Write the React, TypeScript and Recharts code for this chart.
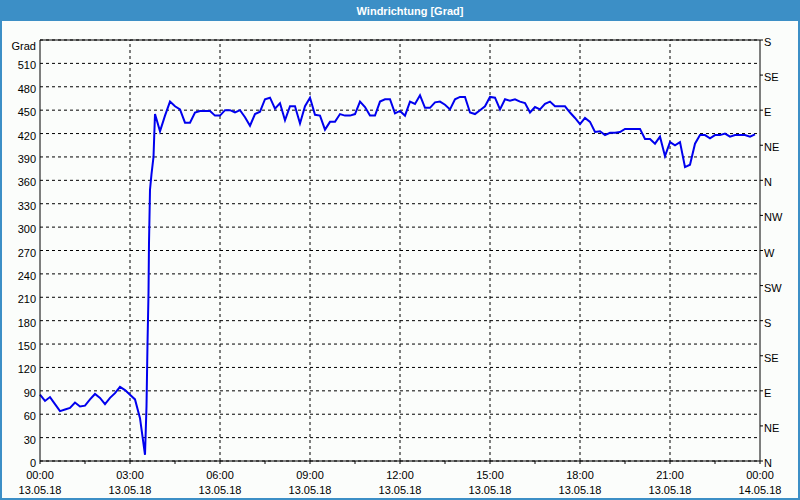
import React from 'react';
import { LineChart, Line, XAxis, YAxis, CartesianGrid, ReferenceLine } from 'recharts';

// time of each reading, minutes after 13.05.18 00:00
const minutes = [
  0, 10, 20, 30, 40, 50, 60, 70, 80, 90, 100, 110, 120, 130, 140, 150, 160, 170, 180, 190,
  200, 210, 213, 215, 217, 218, 220, 223, 227, 230, 240, 250, 260, 270, 280, 290, 300, 310, 320, 330,
  340, 350, 360, 370, 380, 390, 400, 410, 420, 430, 440, 450, 460, 470, 480, 490, 500, 510, 520, 530,
  540, 550, 560, 570, 580, 590, 600, 610, 620, 630, 640, 650, 660, 670, 680, 690, 700, 710, 720, 730,
  740, 750, 760, 770, 780, 790, 800, 810, 820, 830, 840, 850, 860, 870, 880, 890, 900, 910, 920, 930,
  940, 950, 960, 970, 980, 990, 1000, 1010, 1020, 1030, 1040, 1050, 1060, 1070, 1080, 1090, 1100, 1110, 1120, 1130,
  1140, 1150, 1160, 1170, 1180, 1190, 1200, 1210, 1220, 1230, 1240, 1250, 1260, 1270, 1280, 1290, 1300, 1310, 1320, 1330,
  1340, 1350, 1360, 1370, 1380, 1390, 1400, 1410, 1420, 1430,
];

// wind direction in degrees
const grad = [
  85, 77, 82, 73, 64, 66, 68, 75, 70, 71, 79, 86, 81, 73, 81, 87, 95, 91, 85, 79,
  55, 8, 70, 150, 215, 280, 348, 368, 390, 445, 423, 443, 461, 455, 451, 434, 434, 447, 449, 449,
  449, 443, 443, 450, 450, 447, 450, 441, 430, 445, 448, 464, 466, 452, 459, 437, 455, 455, 433, 455,
  466, 444, 443, 425, 435, 435, 445, 443, 443, 445, 461, 454, 443, 443, 461, 464, 464, 446, 449, 443,
  461, 458, 469, 453, 453, 460, 461, 457, 451, 464, 467, 467, 447, 445, 450, 455, 467, 466, 451, 464,
  462, 464, 461, 459, 447, 454, 451, 458, 461, 455, 455, 455, 447, 440, 432, 440, 435, 422, 423, 418,
  421, 421, 422, 426, 426, 426, 426, 413, 413, 407, 416, 391, 409, 405, 409, 377, 380, 407, 418, 418,
  414, 418, 418, 420, 416, 418, 418, 418, 416, 419,
];

const xTicks = [0, 90, 180, 270, 360, 450, 540, 630, 720, 810, 900, 990, 1080, 1170, 1260, 1350, 1440];
const majorTicks = [0, 180, 360, 540, 720, 900, 1080, 1260, 1440];
const timeLabels = ['00:00', '03:00', '06:00', '09:00', '12:00', '15:00', '18:00', '21:00', '00:00'];
const dateLabels = ['13.05.18', '13.05.18', '13.05.18', '13.05.18', '13.05.18', '13.05.18', '13.05.18', '13.05.18', '14.05.18'];

const gradTicks = [0, 30, 60, 90, 120, 150, 180, 210, 240, 270, 300, 330, 360, 390, 420, 450, 480, 510, 540];
const compassTicks = [0, 45, 90, 135, 180, 225, 270, 315, 360, 405, 450, 495, 540];
const compassLabels = ['N', 'NE', 'E', 'SE', 'S', 'SW', 'W', 'NW', 'N', 'NE', 'E', 'SE', 'S'];

const data = minutes.map((t, i) => ({ t, grad: grad[i] }));

const FONT = '"Liberation Sans", Arial, sans-serif';
const BLUE = '#3c8fc6';

const XTick = (props: any) => {
  const { x, y, payload } = props;
  const idx = majorTicks.indexOf(payload.value);
  if (idx < 0) return <g />;
  return (
    <g>
      <text x={x} y={y + 15} textAnchor="middle" fontFamily={FONT} fontSize={11} fill="#000">
        {timeLabels[idx]}
      </text>
      <text x={x} y={y + 30} textAnchor="middle" fontFamily={FONT} fontSize={11} fill="#000">
        {dateLabels[idx]}
      </text>
    </g>
  );
};

const LeftTick = (props: any) => {
  const { x, y, payload } = props;
  const isTop = payload.value === 540;
  return (
    <text x={x} y={y + (isTop ? 10 : 6)} textAnchor="end" fontFamily={FONT} fontSize={11} fill="#000">
      {isTop ? 'Grad' : String(payload.value)}
    </text>
  );
};

const RightTick = (props: any) => {
  const { x, y, payload } = props;
  const idx = compassTicks.indexOf(payload.value);
  return (
    <text x={x} y={y + 6} textAnchor="start" fontFamily={FONT} fontSize={11} fill="#000">
      {compassLabels[idx]}
    </text>
  );
};

export default function App() {
  return (
    <div style={{ position: 'absolute', left: 0, top: 0, width: 800, height: 500, background: BLUE }}>
      <div
        style={{
          position: 'absolute',
          left: 2,
          top: 21,
          width: 796,
          height: 477,
          background: '#fbfdfb',
        }}
      />
      <div
        style={{
          position: 'absolute',
          left: 0,
          top: 3,
          width: 820,
          textAlign: 'center',
          color: '#ffffff',
          fontFamily: FONT,
          fontWeight: 'bold',
          fontSize: 11,
          lineHeight: '16px',
        }}
      >
        Windrichtung [Grad]
      </div>
      <div style={{ position: 'absolute', left: 0, top: 0 }}>
        <LineChart width={800} height={500} data={data} margin={{ top: 40, right: 2, bottom: 3, left: 2 }}>
          <CartesianGrid yAxisId="left" vertical={false} stroke="#000" strokeDasharray="3 3" />
          <XAxis
            dataKey="t"
            type="number"
            domain={[0, 1440]}
            ticks={xTicks}
            interval={0}
            height={36}
            axisLine={{ stroke: '#000' }}
            tickLine={{ stroke: '#000' }}
            tickSize={3}
            tickMargin={0}
            tick={<XTick />}
          />
          <YAxis
            yAxisId="left"
            orientation="left"
            type="number"
            domain={[0, 540]}
            ticks={gradTicks}
            interval={0}
            width={38}
            axisLine={{ stroke: '#000' }}
            tickLine={false}
            tickSize={4}
            tickMargin={0}
            tick={<LeftTick />}
          />
          <YAxis
            yAxisId="right"
            orientation="right"
            type="number"
            domain={[0, 540]}
            allowDataOverflow
            ticks={compassTicks}
            interval={0}
            width={38}
            axisLine={{ stroke: '#000' }}
            tickLine={{ stroke: '#000' }}
            tickSize={3}
            tickMargin={1}
            tick={<RightTick />}
          />
          {majorTicks.slice(1, -1).map((v) => (
            <ReferenceLine key={v} yAxisId="left" x={v} stroke="#000" strokeDasharray="3 3" />
          ))}
          <ReferenceLine yAxisId="left" y={540} stroke="#000" />
          <Line
            yAxisId="right"
            dataKey="grad"
            type="linear"
            stroke="none"
            strokeWidth={0}
            dot={false}
            activeDot={false}
            legendType="none"
            isAnimationActive={false}
          />
          <Line
            yAxisId="left"
            dataKey="grad"
            type="linear"
            stroke="#0000ee"
            strokeWidth={2}
            dot={false}
            isAnimationActive={false}
          />
        </LineChart>
      </div>
    </div>
  );
}
